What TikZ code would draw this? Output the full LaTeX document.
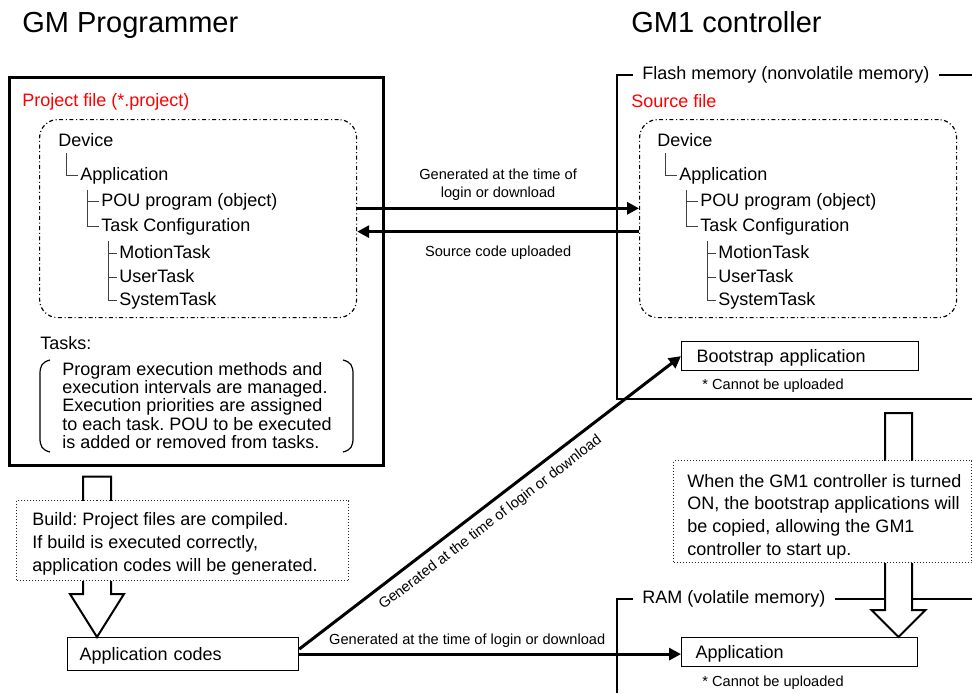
\documentclass[tikz,border=0pt]{standalone}
\usepackage{fontspec}
\setmainfont{Liberation Sans}
\usepackage{xcolor}
\usepackage{tikz}
\usetikzlibrary{positioning, arrows.meta, calc}
\frenchspacing

\begin{document}
\begin{tikzpicture}[
  x=0.5pt, y=-0.5pt,
  txt/.style={inner sep=0pt, anchor=base west, font=\fontsize{9}{11}\selectfont},
  smalltxt/.style={inner sep=0pt, font=\fontsize{7.3}{8.65}\selectfont},
  head/.style={inner sep=0pt, anchor=base west, font=\fontsize{14.5}{17}\selectfont},
  thickline/.style={line width=1.35pt},
  treeline/.style={line width=0.5pt, draw=black!75},
  filebox/.style={draw, line width=0.6pt, rounded corners=9pt, dash pattern=on 2pt off 1.3pt on 0.5pt off 1.3pt, minimum width=158.5pt, minimum height=99pt, anchor=north west},
  codebox/.style={draw, line width=0.6pt, anchor=north west, align=left, inner ysep=0pt, text height=6.6pt, text depth=0.3pt, font=\fontsize{9}{11}\selectfont},
  note/.style={draw=black!85, line width=0.5pt, densely dotted, fill=white, anchor=north west},
  hollowarr/.style={draw, line width=1pt, fill=white},
  arrow/.style={-{Triangle[length=6pt,width=6pt]}, line width=1.5pt}
]
  \useasboundingbox (0,0) rectangle (972,693);

  % titles
  \node[head] (gmp) at (22,32) {GM Programmer};
  \node[head] (gmc) at (631,32) {GM1 controller};

  % programmer side
  \node[draw, thickline, inner sep=0pt, minimum width=187pt, minimum height=194pt, anchor=north west] (gmbox) at (8,76) {};
  \node[txt, text=red] (pfile) at (22,106.5) {Project file (*.project)};
  \node[filebox] (pfbox) at (39,119) {};

  % controller side
  \node[txt, anchor=west, inner xsep=4.5pt] (flash) at (633,75) {Flash memory (nonvolatile memory)};
  \draw[thickline] (flash.west) -- (617,75) -- (617,399) -- (972,399);
  \draw[thickline] (flash.east) -- (972,75);
  \node[txt, text=red] (sfile) at (631,107) {Source file};
  \node[filebox] (sfbox) at (639,119) {};

  % project trees
  \foreach \s/\dx in {L/0, R/599} {
    \node[txt] (dev\s) at (58+\dx,146) {Device};
    \node[txt] (app\s) at (80+\dx,180) {Application};
    \node[txt] (pou\s) at (101+\dx,206) {POU program (object)};
    \node[txt] (tcf\s) at (101+\dx,231) {Task Configuration};
    \node[txt] (mot\s) at (119+\dx,258) {MotionTask};
    \node[txt] (usr\s) at (119+\dx,282) {UserTask};
    \node[txt] (sys\s) at (119+\dx,305) {SystemTask};
    \draw[treeline] ($(dev\s.base west)+(8,7)$) |- ($(app\s.base west)+(-2,-5)$);
    \draw[treeline] ($(app\s.base west)+(7,10)$) |- ($(tcf\s.base west)+(-2,-5)$);
    \draw[treeline] ($(pou\s.base west)+(-14,-5)$) -- ++(12,0);
    \draw[treeline] ($(tcf\s.base west)+(7,10)$) |- ($(sys\s.base west)+(-2,-5)$);
    \draw[treeline] ($(mot\s.base west)+(-11,-5)$) -- ++(9,0);
    \draw[treeline] ($(usr\s.base west)+(-11,-5)$) -- ++(9,0);
  }

  % tasks
  \node[txt] (tasks) at (40,349) {Tasks:};
  \node[txt, anchor=north west, align=left, font=\fontsize{9}{9.1}\selectfont] (taskdesc) at (62,362)
    {Program execution methods and\\execution intervals are managed.\\Execution priorities are assigned\\to each task. POU to be executed\\is added or removed from tasks.};
  \draw[line width=0.6pt] (50,360) .. controls (42,362) and (40,366) .. (40,374) -- (40,438) .. controls (40,446) and (42,450) .. (50,452);
  \draw[line width=0.6pt] (343,360) .. controls (351,362) and (353,366) .. (353,374) -- (353,438) .. controls (353,446) and (351,450) .. (343,452);

  % login / upload
  \draw[arrow] ([yshift=5.15pt]pfbox.east) -- node[smalltxt, above=3.3pt, align=center] {Generated at the time of\\login or download} ([yshift=5.15pt]sfbox.west);
  \draw[arrow] ([yshift=-6.5pt]sfbox.west) -- node[smalltxt, below=6.5pt] {Source code uploaded} ([yshift=-6.5pt]pfbox.west -| pfbox.east);

  % bootstrap
  \node[codebox, minimum height=14.5pt, inner xsep=7.5pt, text width=103.5pt] (boot) at (681,341) {Bootstrap application};
  \node[smalltxt, below right=3.5pt and 10.5pt of boot.south west] (bootnote) {* Cannot be uploaded};

  % RAM
  \node[txt, anchor=west, inner xsep=4.5pt] (ram) at (633,599) {RAM (volatile memory)};
  \draw[thickline] (ram.west) -- (617,599) -- (617,693);
  \draw[thickline] (ram.east) -- (972,599);
  \node[codebox, minimum height=14.5pt, inner xsep=7pt, text width=104pt] (appR) at (681,637) {Application};
  \node[smalltxt, below right=4pt and 10.5pt of appR.south west] (appnote) {* Cannot be uploaded};

  % application codes
  \node[codebox, minimum height=16.5pt, inner xsep=6pt, text width=103.5pt] (appcodes) at (67,637) {Application codes};

  % build
  \coordinate (btop) at ($(gmbox.south west)+(89,10)$);
  \coordinate (btip) at (btop |- appcodes.north);
  \draw[hollowarr] ($(btop)+(-14,0)$) -- ($(btip)+(-14,-43)$) -- ($(btip)+(-27,-43)$) -- (btip)
    -- ($(btip)+(27,-43)$) -- ($(btip)+(14,-43)$) -- ($(btop)+(14,0)$) -- cycle;
  \node[note, minimum width=166pt, minimum height=40pt] (buildnote) at (16,500) {};
  \node[txt, anchor=north west, align=left, font=\fontsize{9}{11.5}\selectfont] (buildtxt) at ([shift={(8pt,-6pt)}]buildnote.north west)
    {Build: Project files are compiled.\\If build is executed correctly,\\application codes will be generated.};

  % startup copy
  \coordinate (rtop) at (898.5,413);
  \coordinate (rtip) at (rtop |- appR.north);
  \draw[hollowarr] ($(rtop)+(-13.5,0)$) -- ($(rtip)+(-13.5,-27)$) -- ($(rtip)+(-27,-27)$) -- (rtip)
    -- ($(rtip)+(27,-27)$) -- ($(rtip)+(13.5,-27)$) -- ($(rtop)+(13.5,0)$) -- cycle;
  \node[note, minimum width=149pt, minimum height=51pt] (copynote) at (673,460) {};
  \node[txt, anchor=north west, align=left, font=\fontsize{9}{11.4}\selectfont] (copytxt) at ([shift={(7pt,-6.8pt)}]copynote.north west)
    {When the GM1 controller is turned\\ON, the bootstrap applications will\\be copied, allowing the GM1\\controller to start up.};

  % downloads of application codes
  \draw[arrow] ([yshift=2.5pt]appcodes.east) -- node[smalltxt, sloped, below=4pt, pos=0.475] {Generated at the time of login or download} (boot.west);
  \draw[arrow] (appcodes.east) -- node[smalltxt, above=2.5pt, pos=0.44] {Generated at the time of login or download} (appcodes.east -| appR.west);
\end{tikzpicture}
\end{document}
